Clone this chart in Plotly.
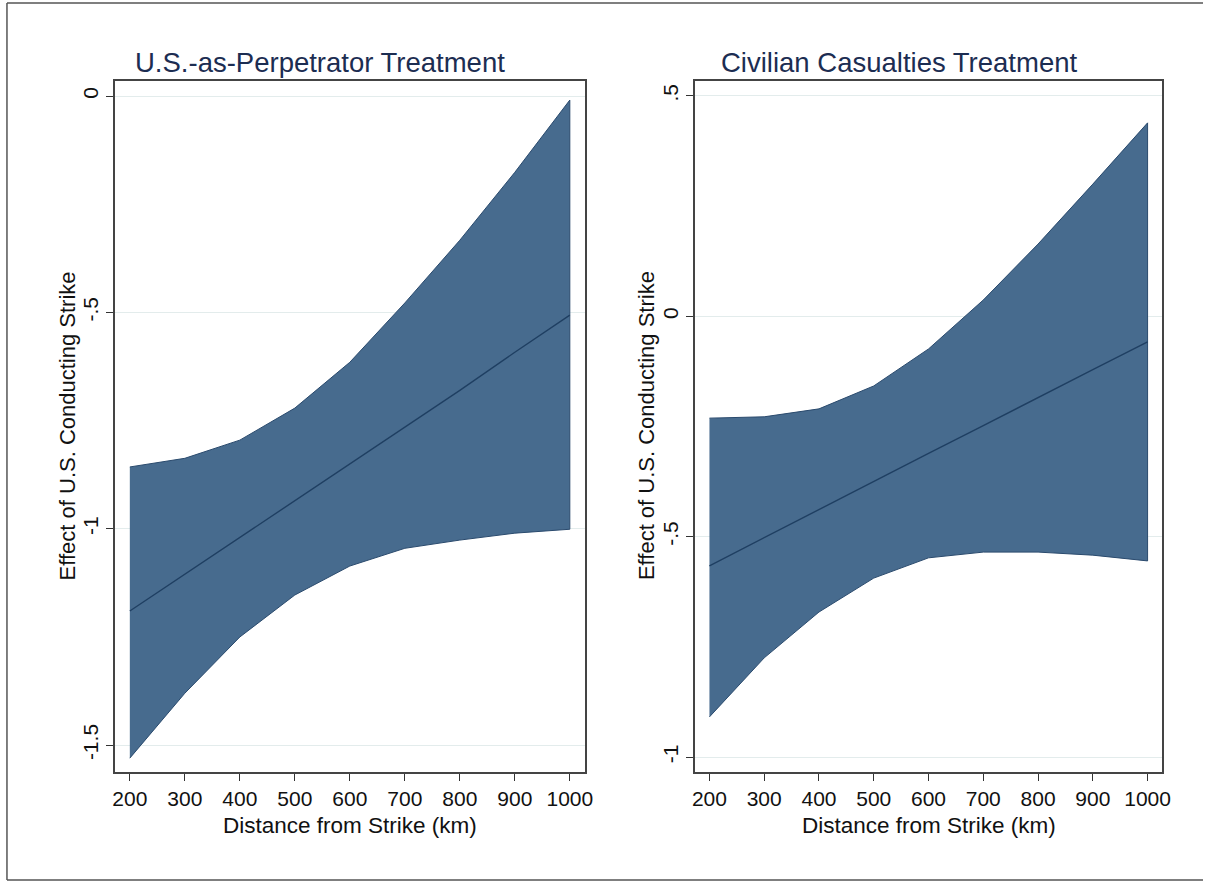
import plotly.graph_objects as go

W, H = 1211, 882

distance = [200, 300, 400, 500, 600, 700, 800, 900, 1000]

# U.S.-as-Perpetrator Treatment
perp_est = [-1.19, -1.105, -1.02, -0.935, -0.85, -0.765, -0.68, -0.592, -0.506]
perp_upper = [-0.857, -0.837, -0.795, -0.721, -0.615, -0.478, -0.333, -0.176, -0.009]
perp_lower = [-1.530, -1.380, -1.250, -1.153, -1.086, -1.045, -1.026, -1.010, -1.001]

# Civilian Casualties Treatment
civ_est = [-0.566, -0.502, -0.438, -0.375, -0.311, -0.248, -0.184, -0.121, -0.058]
civ_upper = [-0.231, -0.228, -0.210, -0.158, -0.074, 0.037, 0.164, 0.300, 0.439]
civ_lower = [-0.909, -0.775, -0.671, -0.594, -0.548, -0.535, -0.535, -0.542, -0.555]

x_ticks = [200, 300, 400, 500, 600, 700, 800, 900, 1000]
x_ticktext = ["200", "300", "400", "500", "600", "700", "800", "900", "1000"]
perp_yticks = [0, -0.5, -1, -1.5]
perp_yticktext = ["0", "-.5", "-1", "-1.5"]
civ_yticks = [0.5, 0, -0.5, -1]
civ_yticktext = [".5", "0", "-.5", "-1"]

titles = ["U.S.-as-Perpetrator Treatment", "Civilian Casualties Treatment"]
x_title = "Distance from Strike (km)"
y_title = "Effect of U.S. Conducting Strike"

FILL = "#476b8e"
EDGE = "#2a4a6d"
LINE = "#1f3f62"
FONT = "Liberation Sans, Arial, Helvetica, sans-serif"

fig = go.Figure()

def add_band(xa, ya, lower, upper, est):
    fig.add_trace(go.Scatter(
        x=distance + distance[::-1], y=upper + lower[::-1],
        fill="toself", fillcolor=FILL, mode="lines",
        line=dict(color=EDGE, width=1), xaxis=xa, yaxis=ya,
        showlegend=False, hoverinfo="skip"))
    fig.add_trace(go.Scatter(
        x=distance, y=est, mode="lines",
        line=dict(color=LINE, width=1.4), xaxis=xa, yaxis=ya,
        showlegend=False))

add_band("x", "y", perp_lower, perp_upper, perp_est)
add_band("x2", "y2", civ_lower, civ_upper, civ_est)

L1, R1 = 113, 587
L2, R2 = 698, 1170
TOP, BOT = 81, 772
y0d, y1d = (H - BOT) / H, (H - TOP) / H
common_x = dict(
    tickmode="array", tickvals=x_ticks, ticktext=x_ticktext,
    ticks="outside", ticklen=7, tickwidth=1, tickcolor="#333",
    showline=True, linecolor="#444", linewidth=1.5, mirror=True,
    showgrid=False, zeroline=False,
    tickfont=dict(family=FONT, size=21, color="#111"),
    range=[173, 1027],
)
common_y = dict(
    ticks="outside", ticklen=7, tickwidth=1, tickcolor="#333",
    showline=True, linecolor="#444", linewidth=1.5, mirror=True,
    showgrid=True, gridcolor="#e3ecec", gridwidth=1, zeroline=False,
    tickangle=-90, tickmode="array",
    tickfont=dict(family=FONT, size=21, color="#111"),
)

fig.update_layout(
    width=W, height=H, autosize=False,
    margin=dict(l=0, r=0, t=0, b=0),
    paper_bgcolor="white", plot_bgcolor="white",
    showlegend=False,
    xaxis=dict(domain=[L1 / W, R1 / W], anchor="y", **common_x),
    yaxis=dict(domain=[y0d, y1d], anchor="x", range=[-1.562, 0.035],
               tickvals=perp_yticks, ticktext=perp_yticktext, **common_y),
    xaxis2=dict(domain=[L2 / W, R2 / W], anchor="y2", **common_x),
    yaxis2=dict(domain=[y0d, y1d], anchor="x2", range=[-1.034, 0.534],
                tickvals=civ_yticks, ticktext=civ_yticktext, **common_y),
)

ann = []
# panel titles
ann.append(dict(text=titles[0], x=131 / W, y=(H - 62) / H, xref="paper", yref="paper",
                xanchor="left", yanchor="middle", showarrow=False,
                font=dict(family=FONT, size=27.5, color="#1c2d52")))
ann.append(dict(text=titles[1], x=723 / W, y=(H - 62) / H, xref="paper", yref="paper",
                xanchor="left", yanchor="middle", showarrow=False,
                font=dict(family=FONT, size=27.5, color="#1c2d52")))
# x axis titles
for cx in [(L1 + R1) / 2, (L2 + R2) / 2]:
    ann.append(dict(text=x_title, x=cx / W, y=(H - 825) / H, xref="paper", yref="paper",
                    xanchor="center", yanchor="middle", showarrow=False,
                    font=dict(family=FONT, size=22.5, color="#111")))
# y axis titles
for cx in [65, 649]:
    ann.append(dict(text=y_title, x=cx / W, y=(H - 426) / H, xref="paper", yref="paper",
                    xanchor="center", yanchor="middle", showarrow=False, textangle=-90,
                    font=dict(family=FONT, size=22, color="#111")))
fig.update_layout(annotations=ann)

# outer frame (top, left, bottom edges visible)
for x0, y0, x1, y1 in [(4, 3, W, 3), (4, 3, 4, 880), (4, 880, W, 880)]:
    fig.add_shape(type="line", xref="paper", yref="paper",
                  x0=x0 / W, x1=x1 / W, y0=(H - y0) / H, y1=(H - y1) / H,
                  line=dict(color="#555", width=1.5), layer="below")

fig.write_html(
    "out.html",
    config={"displayModeBar": False, "responsive": False},
    post_script="document.body.style.margin='0';document.body.style.overflow='hidden';",
)
